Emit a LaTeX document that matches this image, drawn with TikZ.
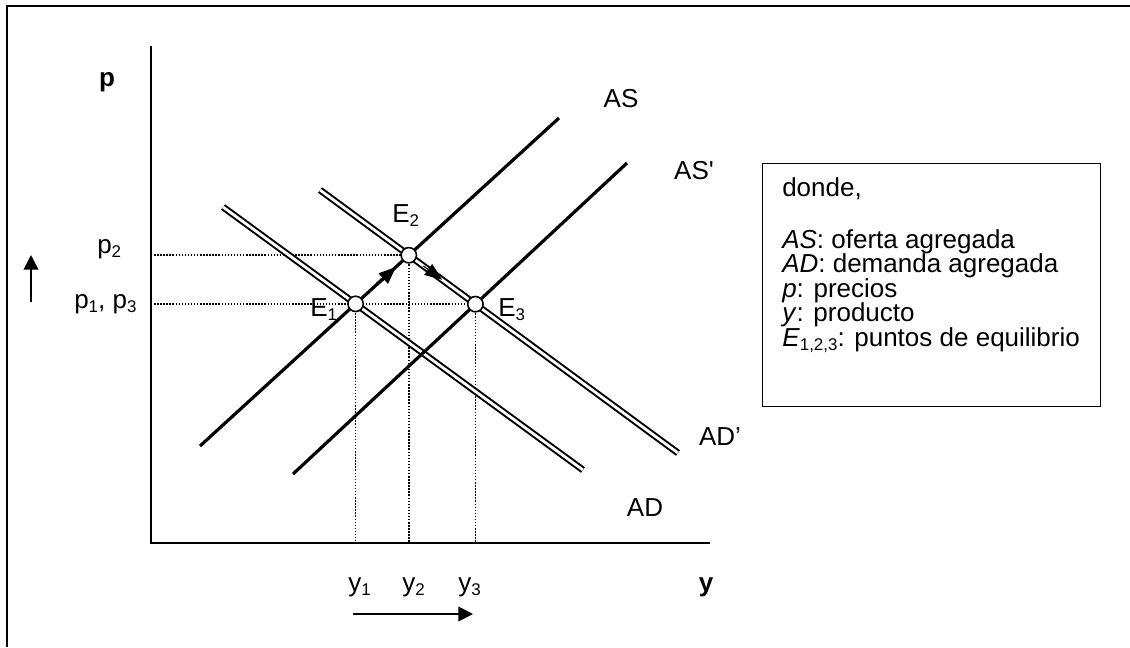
\documentclass[tikz,border=0pt]{standalone}
\usepackage{fontspec}
\setmainfont{Liberation Sans}
\usetikzlibrary{arrows.meta,calc}
\newcommand\figfont{\fontsize{19.5}{18}\selectfont}
\newcommand\lsub[1]{\raisebox{-0.33ex}{\fontsize{12.7}{13}\selectfont #1}}
\begin{document}
\begin{tikzpicture}[x=0.75pt,y=-0.75pt,
  font=\figfont,
  frame/.style={line width=1.3pt},
  axis/.style={line width=1.6pt},
  supply/.style={line width=2.4pt},
  demand/.style={double, double distance=2.1pt, line width=1.5pt},
  guide/.style={line width=1.3pt, dash pattern=on 1.1pt off 1.2pt},
  eq/.style={circle, draw, fill=white, line width=1.2pt, minimum size=11.5pt, inner sep=0pt},
  lbl/.style={inner sep=0pt},
  bigarrow/.style={line width=1.2pt, -{Triangle[length=11pt,width=11pt]}},
  movetip/.style={-{Triangle[length=13pt,width=10pt]}}]
\useasboundingbox (0,0) rectangle (1130,647);
% frame (right and bottom edges lie outside the picture)
\coordinate (F1) at (7,647);
\coordinate (F2) at (7,6);
\coordinate (F3) at (1130,6);
\draw[frame] (F1) -- (F2) -- (F3);
% curve end points
\coordinate (AS1) at (200,446);  \coordinate (AS2) at (559,118);
\coordinate (ASp1) at (293,474); \coordinate (ASp2) at (627,163);
\coordinate (AD1) at (223,207);  \coordinate (AD2) at (583,470);
\coordinate (ADp1) at (320,190); \coordinate (ADp2) at (678,453);
\coordinate (O) at (151,543);
\coordinate (Ytop) at (151,46);
\coordinate (Xend) at (710,543);
\coordinate (e1) at (intersection of AS1--AS2 and AD1--AD2);
\coordinate (e2) at (intersection of AS1--AS2 and ADp1--ADp2);
\coordinate (e3) at (intersection of ASp1--ASp2 and ADp1--ADp2);
% guides
\draw[guide] (e2 -| O) -- (e2);
\draw[guide] (e1 -| O) -- (e1 -| e3);
\draw[guide] (e1) -- (e1 |- O);
\draw[guide] (e2) -- (e2 |- O);
\draw[guide] (e3) -- (e3 |- O);
% axes
\draw[axis] (Ytop) -- (O) -- (Xend);
% curves
\draw[demand] (AD1) -- (AD2);
\draw[demand] (ADp1) -- (ADp2);
\draw[supply] (AS1) -- (AS2);
\draw[supply] (ASp1) -- (ASp2);
% movement arrows
\draw[supply, movetip] ($(e1)!0.40!(e2)$) -- ($(e1)!0.76!(e2)$);
\draw[line width=0.8pt, movetip] ($(e2)!0.22!(e3)$) -- ($(e2)!0.50!(e3)$);
% equilibria
\node[eq] (E1) at (e1) {};
\node[eq] (E2) at (e2) {};
\node[eq] (E3) at (e3) {};
\node[lbl, anchor=base west] (E1lab) at (310,316) {E\lsub{1}};
\node[lbl, anchor=base west] (E2lab) at (392,222) {E\lsub{2}};
\node[lbl, anchor=base west] (E3lab) at (498,316) {E\lsub{3}};
% curve labels
\node[lbl] (ASlab) at (621,99) {AS};
\node[lbl] (ASplab) at (694,171) {AS\textquotesingle};
\node[lbl] (ADplab) at (720,437) {AD’};
\node[lbl] (ADlab) at (645,508) {AD};
% axis labels
\node[lbl, font=\figfont\bfseries] (plab) at (107,82) {p};
\node[lbl, font=\figfont\bfseries] (ylab) at (706,587) {y};
\node[lbl, anchor=base west] (p2lab) at (97,253) {p\lsub{2}};
\node[lbl, anchor=base west] (p13lab) at (74,308) {p\lsub{1}, p\lsub{3}};
\node[lbl, anchor=base west] (y1lab) at (348,591) {y\lsub{1}};
\node[lbl, anchor=base west] (y2lab) at (402,591) {y\lsub{2}};
\node[lbl, anchor=base west] (y3lab) at (458,591) {y\lsub{3}};
% direction arrows
\coordinate (ua1) at (31,302); \coordinate (ua2) at (31,255);
\coordinate (ra1) at (353,614); \coordinate (ra2) at (473,614);
\draw[bigarrow] (ua1) -- (ua2);
\draw[bigarrow] (ra1) -- (ra2);
% legend
\node[draw, line width=1.1pt, anchor=north west, minimum width=253.5pt, minimum height=182.25pt, inner sep=0pt] (legendbox) at (762,163) {};
\node[lbl, anchor=base west] (L0) at (782,196) {donde,};
\node[lbl, anchor=base west] (L1) at (782,248) {\textit{AS}: oferta agregada};
\node[lbl, anchor=base west] (L2) at (782,272.5) {\textit{AD}: demanda agregada};
\node[lbl, anchor=base west] (L3) at (782,297) {\textit{p}: precios};
\node[lbl, anchor=base west] (L4) at (782,321.5) {\textit{y}: producto};
\node[lbl, anchor=base west] (L5) at (782,346) {\textit{E}\lsub{1,2,3}: puntos de equilibrio};
\end{tikzpicture}
\end{document}
